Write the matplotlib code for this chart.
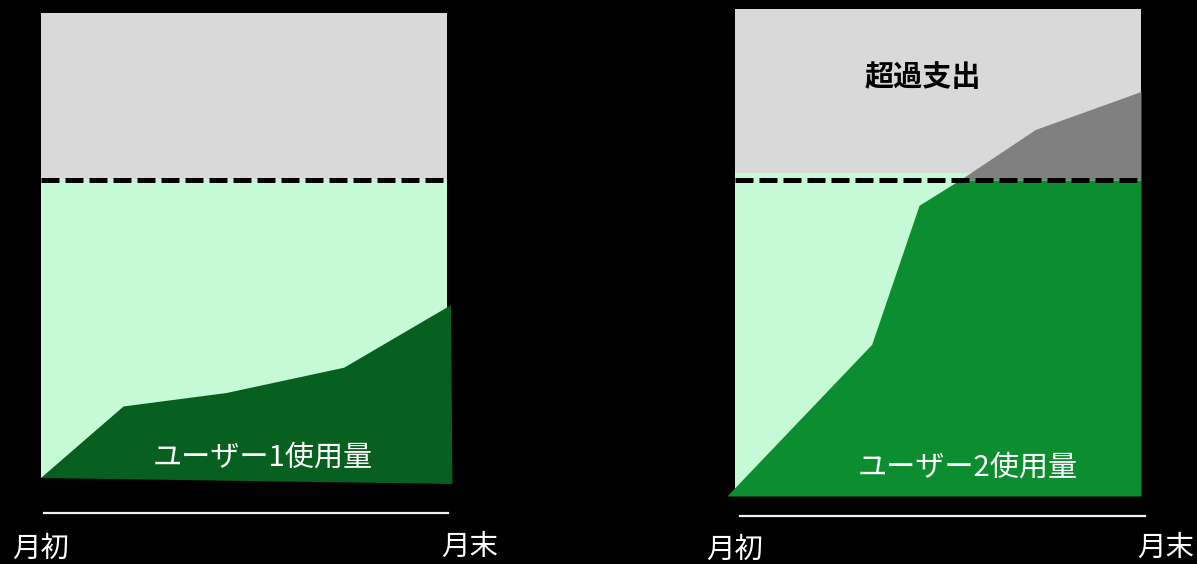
import numpy as np
import matplotlib
matplotlib.use("Agg")
import matplotlib.pyplot as plt

plt.rcParams['font.family'] = ['Noto Sans CJK JP', 'DejaVu Sans']

# budget line (units), both users
budget = 100

# user 1: stays under budget all month
days1 = [0, 6.1, 13.7, 22.4, 30.3, 30.4]
usage1 = [0, 24, 28.5, 37, 58, -2]

# user 2: hits budget mid-month, then overage
days2 = np.array([-0.6, 10.1, 13.6, 16.6, 22.2, 30])
usage2 = np.array([0, 48, 92, 100, 116, 128])

label1 = 'ユーザー1使用量'
label2 = 'ユーザー2使用量'
over_label = '超過支出'
start_label = '月初'
end_label = '月末'

c_gray = '#D9D9D9'
c_light = '#C6F9D5'
c_user1 = '#07601F'
c_user2 = '#0C8D2F'
c_over = '#808080'

W, H = 1197, 564
fig = plt.figure(figsize=(W / 100, H / 100), dpi=100, facecolor='black')


def make_axes(x0, top, bottom, ylim):
    ax = fig.add_axes([x0 / W, (H - bottom) / H, 406 / W, (bottom - top) / H])
    ax.set_facecolor(c_gray)
    ax.set_xlim(0, 30)
    ax.set_ylim(0, ylim)
    ax.set_xticks([])
    ax.set_yticks([])
    for s in ['top', 'left', 'right']:
        ax.spines[s].set_visible(False)
    return ax


def time_axis(ax, ypos, lo, hi):
    sp = ax.spines['bottom']
    sp.set_position(('data', ypos))
    sp.set_bounds(lo, hi)
    sp.set_color('#F2F2F2')
    sp.set_linewidth(1.6)


def budget_line(ax):
    ax.axhline(budget, color='black', lw=3.6, dashes=(3.6, 1.2), zorder=5)


# left panel
ax1 = make_axes(41, 13, 478, 156)
ax1.axhspan(0, 100.3, color=c_light, lw=0, zorder=1)
ax1.fill(days1, usage1, color=c_user1, lw=0, zorder=2, clip_on=False)
budget_line(ax1)
ax1.text(16.4, 7.0, label1, color='white', fontsize=21, ha='center', va='center', zorder=6)
time_axis(ax1, -11.7, 0.2, 30.1)
ax1.text(-0.04, -23.8, start_label, color='white', fontsize=20.5, ha='center', va='center')
ax1.text(31.66, -23.2, end_label, color='white', fontsize=20.5, ha='center', va='center')

# right panel
ax2 = make_axes(735, 9, 496, 154.1)
ax2.axhspan(0, 102.2, color=c_light, lw=0, zorder=1)
g = ax2.fill_between(days2, 0, np.minimum(usage2, budget), color=c_user2, lw=0, zorder=2)
g.set_clip_on(False)
ax2.fill_between(days2, budget, usage2, where=usage2 >= budget, color=c_over, lw=0, zorder=2)
budget_line(ax2)
ax2.text(17.2, 8.9, label2, color='white', fontsize=21, ha='center', va='center', zorder=6)
ax2.text(13.9, 132.6, over_label, color='black', fontsize=21, fontweight='bold',
         ha='center', va='center', zorder=6)
time_axis(ax2, -6.3, 0.37, 30.3)
ax2.text(0, -17.1, start_label, color='white', fontsize=20.5, ha='center', va='center')
ax2.text(31.8, -16.3, end_label, color='white', fontsize=20.5, ha='center', va='center')

fig.savefig('out.png', dpi=100, facecolor='black')
